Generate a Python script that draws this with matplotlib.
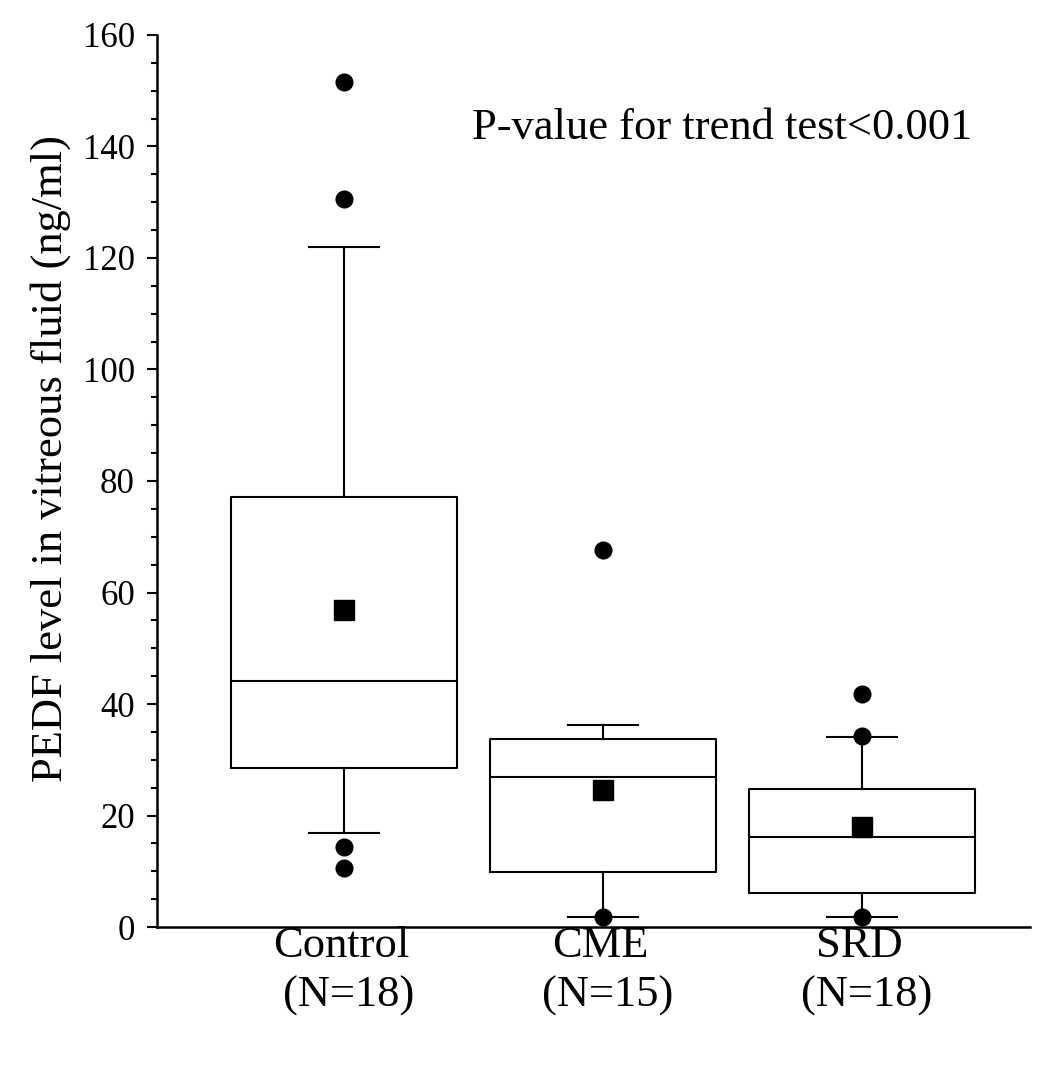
import numpy as np
import matplotlib.pyplot as plt
from matplotlib.ticker import MultipleLocator

plt.rcParams['font.family'] = ['Liberation Serif', 'DejaVu Serif']

# data
groups = ['Control', 'CME', 'SRD']
n_labels = ['(N=18)', '(N=15)', '(N=18)']
q1 = [28.5, 9.9, 6.1]
median = [44.1, 26.9, 16.1]
q3 = [77.1, 33.7, 24.8]
mean = [56.9, 24.6, 17.9]
whislo = [16.9, 1.8, 1.8]
whishi = [122.0, 36.2, 34.1]
outliers = [[151.6, 130.6, 14.3, 10.6], [67.6, 1.8], [41.8, 34.3, 1.8]]

stats = []
for i in range(len(groups)):
    stats.append({'label': groups[i], 'q1': q1[i], 'med': median[i], 'q3': q3[i],
                  'mean': mean[i], 'whislo': whislo[i], 'whishi': whishi[i],
                  'fliers': outliers[i]})

fig = plt.figure(figsize=(10.5, 10.69), dpi=100)
ax = fig.add_axes([0.1495, 0.1328, 0.8315, 0.8345])

pos = [1, 2, 3]
ax.bxp(stats, positions=pos, widths=0.876, capwidths=0.27, showmeans=True,
       boxprops=dict(color='black', linewidth=1.5),
       medianprops=dict(color='black', linewidth=1.5),
       whiskerprops=dict(color='black', linewidth=1.5),
       capprops=dict(color='black', linewidth=1.5),
       flierprops=dict(marker='o', markerfacecolor='black', markeredgecolor='black', markersize=12),
       meanprops=dict(marker='s', markerfacecolor='black', markeredgecolor='black', markersize=15))

ax.set_xlim(0.278, 3.649)
ax.set_ylim(0, 160)
ax.yaxis.set_major_locator(MultipleLocator(20))
ax.yaxis.set_minor_locator(MultipleLocator(5))
ax.tick_params(axis='y', which='major', length=7, width=1.5, labelsize=25, pad=9, direction='out')
ax.tick_params(axis='y', which='minor', length=4, width=1.5, direction='out')
ax.set_xticks([])
ax.spines['top'].set_visible(False)
ax.spines['right'].set_visible(False)
ax.spines['left'].set_linewidth(1.8)
ax.spines['bottom'].set_linewidth(1.8)

ax.set_ylabel('PEDF level in vitreous fluid (ng/ml)', fontsize=32)
ax.yaxis.set_label_coords(-0.098, 0.525)

for i, g in enumerate(groups):
    ax.text(pos[i] - 0.01, -3.4, g, ha='center', va='center', fontsize=32)
    ax.text(pos[i] + 0.02, -12.4, n_labels[i], ha='center', va='center', fontsize=32)

ax.text(2.459, 143.3, 'P-value for trend test<0.001', ha='center', va='center', fontsize=32)

fig.savefig('out.png', dpi=100)
